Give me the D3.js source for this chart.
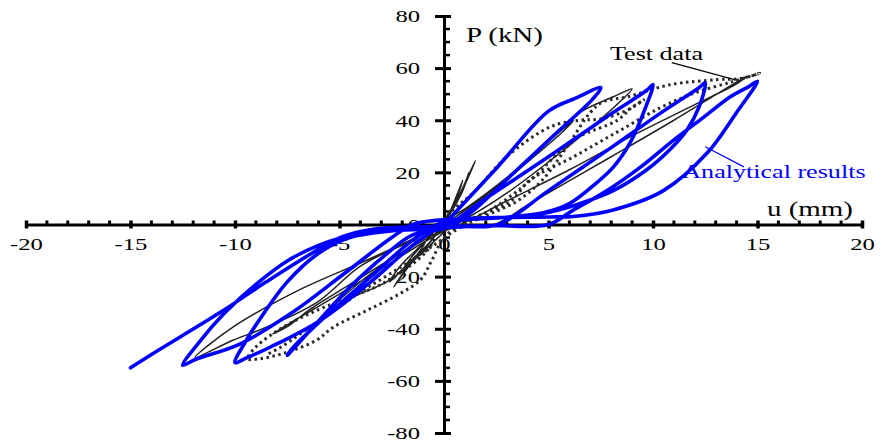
<!DOCTYPE html>
<html>
<head>
<meta charset="utf-8">
<script src="https://cdn.jsdelivr.net/npm/d3@7"></script>
<style>
  body { margin: 0; background: #fff; }
  svg text { font-family: "Liberation Serif", "Times New Roman", serif; }
</style>
</head>
<body>
<div class="chart"></div>
<script>
// tick values
const xTicks = [-20, -15, -10, -5, 0, 5, 10, 15, 20]
const yTicks = [-80, -60, -40, -20, 0, 20, 40, 60, 80]
const xMinor = [-19,-18,-17,-16,-14,-13,-12,-11,-9,-8,-7,-6,-4,-3,-2,-1,1,2,3,4,6,7,8,9,11,12,13,14,16,17,18,19]
const yMinor = [-75,-70,-65,-55,-50,-45,-35,-30,-25,-15,-10,-5,5,10,15,25,30,35,45,50,55,65,70,75]

// analytical results (u mm, P kN)
const analytical = [
  [0,0],[2.5,21.5],[5,43.5],[6.3,48.5],[7.5,52.5],
  [7.1,48],[5.5,36],[3.5,21],[1.5,6],[0.5,0],
  [0,-1.5],[-1.5,-4],[-3,-13],[-4.5,-24],[-6,-37],[-7.5,-50.2],
  [-7.2,-47],[-5.5,-34],[-3.5,-20],[-1.5,-6],[-0.3,0],
  [0.5,1.5],[2.5,2.5],[4.7,4.4],[6,8],[7.3,16],[8.1,22],[8.9,31.3],[9.6,44],[10,53.7],
  [9.7,51.5],[8,42.5],[5,26],[2,10],[0.2,0],
  [-0.5,-1.5],[-2.5,-2.5],[-4.5,-5],[-6,-11],[-7.5,-22],[-8.7,-35],[-9.5,-45],[-10,-53],
  [-9.4,-51],[-8.3,-47],[-5.9,-36.7],[-3.5,-22],[-1.5,-8],[0,0],
  [0.6,1.5],[3,2.8],[5.1,4.8],[6.5,8],[8.1,13],[9.7,21],[10.8,28.7],[11.6,36],[12.2,45],[12.5,54.4],
  [12.2,52.5],[10.5,43.5],[8,29.5],[5,13],[2.6,0],
  [1,-0.8],[0,-1.2],[-2,-2],[-4,-3.5],[-6,-8],[-7.5,-14],[-9,-23],[-10.5,-34],[-11.7,-45],[-12.5,-54],
  [-11.9,-51.8],[-9.8,-46],[-7.3,-34],[-4.8,-19],[-2.5,-5],[-1.5,0],
  [-0.5,1.5],[0.5,2],[2,2.6],[5.1,2.9],[6.2,3.1],[8.1,5.6],[10.5,13],[12.6,27.5],[14,43],[15,55],
  [14.6,53],[13.7,49],[12.4,41],[11,32.5],[9.4,22],[7.8,13],[6.2,5.6],[5,0],
  [2.5,-0.5],[0,-0.8],[-1.5,-0.9],[-3.4,-1.8],[-4.8,-4.5],[-5.9,-9],[-8.5,-22],[-10.7,-33.7],[-13.9,-49.4],[-15,-55]
]

// test data, solid trace
const testSolid = [
  [0,0],[0.6,9],[1.5,24.5],[1.1,17],[0.4,6],[-0.3,-3],[-1,-10],[-2,-18],[-1.6,-13],[-0.6,-4],
  [0.2,4],[0.8,12],[1.2,20],[0.9,13],[0.2,3],[0.5,9],[0.9,17],[0.6,10],[0.1,2],
  [-0.6,-6],[-1.6,-14],[-2.6,-22],[-2.1,-16],[-0.9,-7],[-1.6,-15],[-2.4,-24],[-1.9,-18],[-0.7,-7],
  [0,1],[1,6],[3,18],[5,32],[6.2,40],[5.6,35],[4,24],[2,11],[0,0],
  [-1.5,-8],[-3,-16],[-4.3,-24],[-5.3,-31.7],[-4.4,-28],[-2.6,-21.3],[-1.2,-12],[0,-3],
  [1.5,6],[3,17],[4.3,27],[5.4,35],[6.5,43],[8.1,49],[9,52],[8.4,47],[7,37],[5,24],[3,12],[1,2],
  [-0.5,-4],[-2.5,-13],[-4.5,-23],[-6.5,-33],[-7.4,-38.7],[-8.2,-42],[-7.4,-38],[-5.5,-29],[-3,-17],[-1,-7],
  [0.5,-1],[2.4,0],[4.1,8],[8,26],[11,40],[14.5,57],[14,54],[12,46],[9,34],[6,21],[3,9],[0.5,-1],
  [-2,-8],[-4,-16],[-6.1,-30],[-8.5,-39.4],[-10.1,-44.4],[-11.9,-51],[-10.1,-39.4],[-6.9,-25],[-3.7,-13.7],[0,0]
]

// test data, dotted trace
const testDotted = [
  [0,0],[1.6,2.9],[4,16],[6.2,32.5],[8.3,40],[9,45],[9.6,48],
  [8.8,44],[7.5,40.5],[6.5,40],[5.1,37.5],[3,26],[1.5,13],[0,2],
  [-0.8,-10],[-2.9,-22.5],[-4.5,-27.8],[-6.1,-33],[-7.7,-39.4],[-9,-47],[-9.4,-51.5],
  [-8.8,-51.5],[-7.5,-49],[-6.1,-44.4],[-5.3,-39.4],[-3.7,-33],[-2.1,-26.5],[-1.1,-21],[-0.6,-14],[0,-5],
  [1,1],[3.2,9],[4.1,17],[6.2,26],[8.4,36],[10.4,45],[12,50.5],[13.8,54.8],[15.1,58],
  [14.2,56],[13.1,55.6],[10.8,53.6],[8.8,49],[7.6,47],[7,43],[5.9,30],[4.7,17],[3.5,9],[2.2,4],
  [0.8,-1],[-0.5,-8],[-2,-16],[-4,-26],[-6,-37],[-7.8,-47],[-8.5,-50]
]

const width = 882, height = 441
const sx = 1.45   // the picture is stretched sideways

const svg = d3.select('.chart').append('svg')
  .attr('width', width)
  .attr('height', height)

const x = d3.scaleLinear().domain([-20, 20]).range([26, 862])
const y = d3.scaleLinear().domain([-80, 80]).range([433, 16])

// x axis
const gx = svg.append('g')
  .attr('transform', 'translate(0,' + y(0) + ')')
  .call(d3.axisBottom(x).tickValues(xTicks).tickFormat(d => String(d)).tickSize(4).tickSizeOuter(0))
gx.select('.domain').attr('stroke-width', 3).attr('stroke', '#000')
gx.selectAll('.tick line').attr('y1', -4).attr('stroke-width', 3.5).attr('stroke', '#000')
gx.selectAll('.tick text')
  .attr('y', 25.5).attr('dy', null)
  .attr('font-size', 17).attr('fill', '#000')
  .attr('font-family', '"Liberation Serif", serif')
  .attr('transform', 'scale(' + sx + ',1)')
gx.selectAll('.minor').data(xMinor).enter().append('line')
  .attr('x1', d => x(d)).attr('x2', d => x(d))
  .attr('y1', -4).attr('y2', 0)
  .attr('stroke', '#000').attr('stroke-width', 3)

// y axis
const gy = svg.append('g')
  .attr('transform', 'translate(' + x(0) + ',0)')
  .call(d3.axisLeft(y).tickValues(yTicks).tickFormat(d => String(d)).tickSize(9).tickSizeOuter(0))
gy.select('.domain').attr('stroke-width', 3).attr('stroke', '#000')
gy.selectAll('.tick line').attr('x1', 7).attr('stroke-width', 3).attr('stroke', '#000')
gy.selectAll('.tick text')
  .attr('x', -24 / sx).attr('dy', '0.34em')
  .attr('font-size', 17).attr('fill', '#000')
  .attr('font-family', '"Liberation Serif", serif')
  .attr('transform', 'scale(' + sx + ',1)')
gy.selectAll('.minor').data(yMinor).enter().append('line')
  .attr('y1', d => y(d)).attr('y2', d => y(d))
  .attr('x1', 0).attr('x2', 6)
  .attr('stroke', '#000').attr('stroke-width', 2.5)

const line = d3.line()
  .x(d => x(d[0]))
  .y(d => y(d[1]))
  .curve(d3.curveCatmullRom.alpha(0.5))

svg.append('path')
  .datum(testSolid)
  .attr('d', line)
  .attr('fill', 'none')
  .attr('stroke', '#222')
  .attr('stroke-width', 1.5)

svg.append('path')
  .datum(testDotted)
  .attr('d', line)
  .attr('fill', 'none')
  .attr('stroke', '#2a2a2a')
  .attr('stroke-width', 3)
  .attr('stroke-dasharray', '2.5,3.5')

svg.append('path')
  .datum(analytical)
  .attr('d', line)
  .attr('fill', 'none')
  .attr('stroke', '#0000ff')
  .attr('stroke-width', 3.6)
  .attr('stroke-linejoin', 'round')
  .attr('stroke-linecap', 'round')

// labels
function label(u, p, txt, size, color){
  svg.append('text')
    .attr('transform', 'translate(' + x(u) + ',' + y(p) + ') scale(' + sx + ',1)')
    .attr('font-size', size)
    .attr('fill', color)
    .text(txt)
}
label(1.05, 70.2, 'P (kN)', 20, '#000')
label(15.45, 3.3, 'u (mm)', 20, '#000')
label(7.94, 63.3, 'Test data', 18, '#000')
label(11.4, 17.9, 'Analytical results', 18, '#0000ff')

// leader lines
svg.append('line')
  .attr('x1', x(10.9)).attr('y1', y(62.1))
  .attr('x2', x(13.9)).attr('y2', y(55.6))
  .attr('stroke', '#000').attr('stroke-width', 1.2)
svg.append('line')
  .attr('x1', x(12.5)).attr('y1', y(29.8))
  .attr('x2', x(14.35)).attr('y2', y(22.1))
  .attr('stroke', '#0000ff').attr('stroke-width', 1.2)
</script>
</body>
</html>
